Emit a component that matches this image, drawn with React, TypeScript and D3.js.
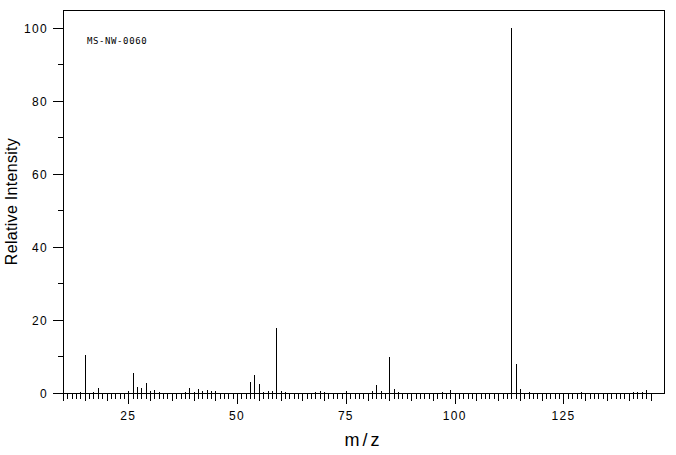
import React from "react";
import * as d3 from "d3";

const mz: number[] = [14, 15, 17, 18, 25, 26, 27, 28, 29, 30, 31, 32, 38, 39, 40, 41, 42, 43, 44, 45, 53, 54, 55, 56, 57, 58, 59, 60, 61, 68, 69, 70, 75, 81, 82, 83, 85, 86, 87, 97, 99, 113, 114, 115, 117, 129, 141, 142, 143, 144];
const intensity: number[] = [0.4, 10.5, 0.4, 1.5, 0.6, 5.6, 1.7, 1.3, 2.8, 0.6, 0.9, 0.4, 0.4, 1.5, 0.4, 1.2, 0.6, 0.9, 0.5, 0.6, 3.1, 5.0, 2.6, 0.4, 0.5, 0.5, 17.8, 0.6, 0.4, 0.4, 0.5, 0.4, 0.6, 0.6, 2.3, 0.6, 9.8, 1.0, 0.4, 0.4, 0.9, 100, 8.0, 1.2, 0.4, 0.4, 0.4, 0.4, 0.4, 0.9];
const xTickLabels: number[] = [25, 50, 75, 100, 125];
const yTickLabels: number[] = [0, 20, 40, 60, 80, 100];
const title = "MS-NW-0060";

const W = 676;
const H = 455;
const L = 63, R = 664, T = 10, B = 393;

export default function App() {
  const x = d3.scaleLinear().domain([10, 148.1]).range([L, R]);
  const y = d3.scaleLinear().domain([0, 104.85]).range([B, T]);
  const minorX = d3.range(10, 146, 1);
  const minorY = d3.range(10, 100, 20);
  const font = "'Liberation Sans', Arial, sans-serif";
  return (
    <svg width={W} height={H} style={{ position: "absolute", left: 0, top: 0, background: "#fff" }}>
      <rect x={L + 0.5} y={T + 0.5} width={R - L} height={B - T} fill="none" stroke="#000" strokeWidth={1} shapeRendering="crispEdges" />
      {minorX.map((m) => {
        const len = m % 25 === 0 ? 11 : m % 5 === 0 ? 8 : 6;
        const px = Math.round(x(m)) + 0.5;
        return <line key={"xt" + m} x1={px} x2={px} y1={B} y2={B + len} stroke="#000" strokeWidth={1} shapeRendering="crispEdges" />;
      })}
      {xTickLabels.map((m) => (
        <text key={"xl" + m} x={x(m)} y={419.5} textAnchor="middle" fontFamily={font} fontSize={12} letterSpacing={1.3} fill="#000">{m}</text>
      ))}
      {yTickLabels.map((v) => {
        const py = Math.round(y(v)) + 0.5;
        return (
          <g key={"yt" + v}>
            <line x1={L - 10} x2={L} y1={py} y2={py} stroke="#000" strokeWidth={1} shapeRendering="crispEdges" />
            <text x={48} y={py + 4.5} textAnchor="end" fontFamily={font} fontSize={12} letterSpacing={1.3} fill="#000">{v}</text>
          </g>
        );
      })}
      {minorY.map((v) => {
        const py = Math.round(y(v)) + 0.5;
        return <line key={"ym" + v} x1={L - 5} x2={L} y1={py} y2={py} stroke="#000" strokeWidth={1} shapeRendering="crispEdges" />;
      })}
      {mz.map((m, i) => {
        const px = Math.round(x(m)) + 0.5;
        return <line key={"p" + m} x1={px} x2={px} y1={B} y2={y(intensity[i])} stroke="#000" strokeWidth={1} shapeRendering="crispEdges" />;
      })}
      <text x={87} y={44} fontFamily="'DejaVu Sans Mono', monospace" fontSize={9} letterSpacing={0.6} fill="#000">{title}</text>
      <text x={(L + R) / 2} y={446} textAnchor="middle" fontFamily={font} fontSize={18} letterSpacing={3} fill="#000">m/z</text>
      <text transform={`translate(17,${(T + B) / 2}) rotate(-90)`} textAnchor="middle" fontFamily={font} fontSize={16} letterSpacing={0.3} fill="#000">Relative Intensity</text>
    </svg>
  );
}
